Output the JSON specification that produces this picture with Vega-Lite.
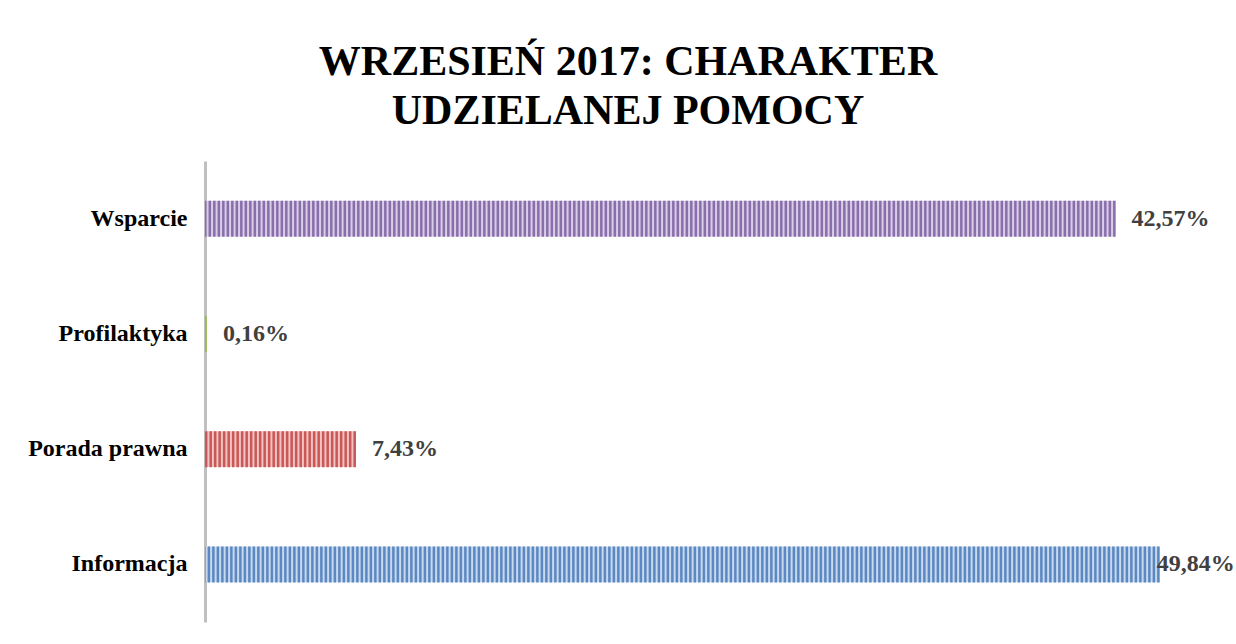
{
  "$schema": "https://vega.github.io/schema/vega-lite/v6.json",
  "autosize": {"type": "none"},
  "width": 996,
  "height": 461,
  "padding": {"left": 205, "top": 161, "right": 35, "bottom": 22},
  "background": "white",
  "config": {"view": {"stroke": null}},
  "title": {
    "text": ["WRZESIEŃ 2017: CHARAKTER", "UDZIELANEJ POMOCY"],
    "font": "Liberation Serif",
    "fontSize": 42,
    "fontWeight": "bold",
    "color": "#000000",
    "lineHeight": 49,
    "anchor": "middle",
    "frame": "group",
    "dx": -75,
    "dy": 43,
    "baseline": "alphabetic",
    "offset": 38
  },
  "data": {
    "values": [
      {"kategoria": "Wsparcie", "wartosc": 47.54, "etykieta": "42,57%"},
      {"kategoria": "Profilaktyka", "wartosc": 0.1, "etykieta": "0,16%"},
      {"kategoria": "Porada prawna", "wartosc": 7.88, "etykieta": "7,43%"},
      {"kategoria": "Informacja", "wartosc": 49.84, "etykieta": "49,84%"}
    ]
  },
  "encoding": {
    "y": {
      "field": "kategoria",
      "type": "nominal",
      "sort": ["Wsparcie", "Profilaktyka", "Porada prawna", "Informacja"],
      "scale": {"paddingInner": 0.69, "paddingOuter": 0.345},
      "axis": {
        "title": null,
        "domain": true,
        "domainColor": "#bfbfbf",
        "domainWidth": 3,
        "ticks": false,
        "labelFont": "Liberation Serif",
        "labelFontSize": 24,
        "labelFontWeight": "bold",
        "labelColor": "#000000",
        "labelPadding": 18
      }
    }
  },
  "layer": [
    {
      "mark": {"type": "bar"},
      "encoding": {
        "x": {"field": "wartosc", "type": "quantitative", "scale": {"domain": [0, 52], "nice": false, "zero": true}, "axis": null},
        "fill": {
          "field": "kategoria",
          "type": "nominal",
          "scale": {"domain": ["Wsparcie", "Profilaktyka", "Porada prawna", "Informacja"], "range": ["#d8cee6", "#c5dc8f", "#f1c3c2", "#c8d9ee"]},
          "legend": null
        }
      }
    },
    {
      "mark": {"type": "rule", "strokeWidth": 36, "strokeDash": [2.5, 2], "strokeCap": "butt"},
      "encoding": {
        "x": {"field": "wartosc", "type": "quantitative"},
        "x2": {"datum": 0},
        "stroke": {
          "field": "kategoria",
          "type": "nominal",
          "scale": {"domain": ["Wsparcie", "Profilaktyka", "Porada prawna", "Informacja"], "range": ["#8a6eac", "#9bbb59", "#c95856", "#5a88c2"]},
          "legend": null
        }
      }
    },
    {
      "transform": [{"filter": "datum.kategoria !== 'Informacja'"}],
      "mark": {"type": "text", "align": "left", "baseline": "middle", "dx": 16, "font": "Liberation Serif", "fontSize": 24, "fontWeight": "bold", "color": "#404040"},
      "encoding": {
        "x": {"field": "wartosc", "type": "quantitative"},
        "text": {"field": "etykieta"}
      }
    },
    {
      "transform": [{"filter": "datum.kategoria === 'Informacja'"}],
      "mark": {"type": "text", "align": "left", "baseline": "middle", "dx": -3, "font": "Liberation Serif", "fontSize": 24, "fontWeight": "bold", "color": "#404040"},
      "encoding": {
        "x": {"field": "wartosc", "type": "quantitative"},
        "text": {"field": "etykieta"}
      }
    }
  ]
}
